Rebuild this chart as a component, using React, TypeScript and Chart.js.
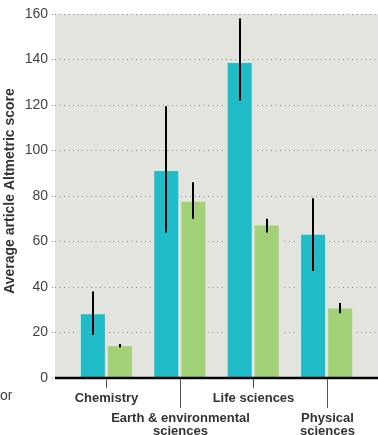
import React, { useEffect, useRef } from "react";
import { Chart, registerables } from "chart.js";

Chart.register(...registerables);

const categories = ["Chemistry", "Earth & environmental sciences", "Life sciences", "Physical sciences"];
const categoryLines = [["Chemistry"], ["Earth & environmental", "sciences"], ["Life sciences"], ["Physical", "sciences"]];
const labelLevels = [0, 1, 0, 1];

const seriesA = [28, 91, 138.5, 63];
const seriesALow = [19, 64, 122, 47];
const seriesAHigh = [38, 119.5, 158, 79];

const seriesB = [14, 77.5, 67, 30.5];
const seriesBLow = [13.5, 70, 64, 28.5];
const seriesBHigh = [15, 86, 70, 33];

const yTicks = [0, 20, 40, 60, 80, 100, 120, 140, 160];
const yTitle = "Average article Altmetric score";
const strayText = "or";

const TEAL = "#20bcc8";
const GREEN = "#a3d177";
const BG = "#e4e4df";
const FONT = "'Liberation Sans', Arial, sans-serif";

const lowHigh = [
  { low: seriesALow, high: seriesAHigh },
  { low: seriesBLow, high: seriesBHigh },
];

const customPlugin = {
  id: "customDraw",
  beforeDraw(chart: any) {
    const { ctx, chartArea: a } = chart;
    ctx.save();
    ctx.fillStyle = BG;
    ctx.fillRect(a.left, a.top, a.right - a.left, a.bottom - a.top);
    ctx.restore();
  },
  beforeDatasetsDraw(chart: any) {
    const { ctx } = chart;
    ctx.save();
    ctx.fillStyle = BG;
    chart.data.datasets.forEach((_: any, di: number) => {
      const meta = chart.getDatasetMeta(di);
      meta.data.forEach((bar: any) => {
        const { x, y, base, width } = bar.getProps(["x", "y", "base", "width"], true);
        ctx.fillRect(x - width / 2 - 3, y, width + 6, base - y);
      });
    });
    ctx.restore();
  },
  afterDatasetsDraw(chart: any) {
    const { ctx, chartArea: a, scales } = chart;
    const ys = scales.y;
    ctx.save();
    ctx.strokeStyle = "#000";
    ctx.lineWidth = 2;
    chart.data.datasets.forEach((_: any, di: number) => {
      const meta = chart.getDatasetMeta(di);
      meta.data.forEach((bar: any, i: number) => {
        const x = Math.round(bar.x);
        const y1 = ys.getPixelForValue(lowHigh[di].low[i]);
        const y2 = ys.getPixelForValue(lowHigh[di].high[i]);
        ctx.beginPath();
        ctx.moveTo(x, y1);
        ctx.lineTo(x, y2);
        ctx.stroke();
      });
    });
    ctx.lineWidth = 2.5;
    ctx.beginPath();
    ctx.moveTo(a.left, a.bottom);
    ctx.lineTo(a.right, a.bottom);
    ctx.stroke();
    ctx.restore();
  },
  afterDraw(chart: any) {
    const { ctx, chartArea: a, scales } = chart;
    const xs = scales.x;
    ctx.save();
    categoryLines.forEach((lines, i) => {
      const x = Math.round(xs.getPixelForValue(i)) + 0.5;
      const level = labelLevels[i];
      const tickEnd = level === 0 ? a.bottom + 10 : a.bottom + 30;
      ctx.strokeStyle = "#555";
      ctx.lineWidth = 1;
      ctx.beginPath();
      ctx.moveTo(x, a.bottom + 1);
      ctx.lineTo(x, tickEnd);
      ctx.stroke();
      ctx.fillStyle = "#333";
      ctx.font = `bold 13px ${FONT}`;
      ctx.textAlign = "center";
      ctx.textBaseline = "middle";
      const startY = level === 0 ? a.bottom + 20 : a.bottom + 40;
      lines.forEach((t, li) => {
        ctx.fillText(t, x, startY + li * 13);
      });
    });
    ctx.save();
    ctx.translate(10, 191);
    ctx.rotate(-Math.PI / 2);
    ctx.fillStyle = "#333";
    ctx.font = `bold 14px ${FONT}`;
    ctx.textAlign = "center";
    ctx.textBaseline = "middle";
    ctx.fillText(yTitle, 0, 0);
    ctx.restore();
    ctx.fillStyle = "#444";
    ctx.font = `14px ${FONT}`;
    ctx.textAlign = "left";
    ctx.textBaseline = "alphabetic";
    ctx.fillText(strayText, 0, 400);
    ctx.restore();
  },
};

export default function App() {
  const ref = useRef<HTMLCanvasElement | null>(null);
  useEffect(() => {
    if (!ref.current) return;
    const chart = new Chart(ref.current, {
      type: "bar",
      data: {
        labels: categories,
        datasets: [
          {
            label: "Series A",
            data: seriesA.map((v, i) => ({ x: i, y: v })),
            backgroundColor: TEAL,
            categoryPercentage: 0.736,
            barPercentage: 0.89,
          },
          {
            label: "Series B",
            data: seriesB.map((v, i) => ({ x: i, y: v })),
            backgroundColor: GREEN,
            categoryPercentage: 0.736,
            barPercentage: 0.89,
          },
        ] as any,
      },
      options: {
        responsive: false,
        animation: false,
        layout: { padding: { top: 14, bottom: 57, left: 0, right: 0 } },
        plugins: { legend: { display: false }, tooltip: { enabled: false } },
        scales: {
          x: {
            type: "linear",
            display: false,
            offset: false,
            bounds: "data",
            min: -0.7,
            max: 3.7,
            grid: { offset: false },
            afterBuildTicks: (s: any) => {
              s.ticks = categories.map((_, i) => ({ value: i }));
            },
          },
          y: {
            min: 0,
            max: 160,
            afterBuildTicks: (s: any) => {
              s.ticks = yTicks.map((v) => ({ value: v }));
            },
            afterFit: (s: any) => {
              s.width = 55;
            },
            ticks: {
              color: "#444",
              font: { family: FONT, size: 14 },
              padding: 4,
            },
            grid: {
              color: "#8a8a8a",
              lineWidth: 1,
              tickLength: 3,
              tickColor: "#8a8a8a",
              tickBorderDash: [1, 3.5],
            },
            border: { display: false, dash: [1, 3.5] },
          },
        },
      } as any,
      plugins: [customPlugin],
    });
    return () => chart.destroy();
  }, []);
  return (
    <div style={{ position: "fixed", left: 0, top: 0, width: 378, height: 435, background: "#fff" }}>
      <canvas ref={ref} width={378} height={435} style={{ display: "block" }} />
    </div>
  );
}
